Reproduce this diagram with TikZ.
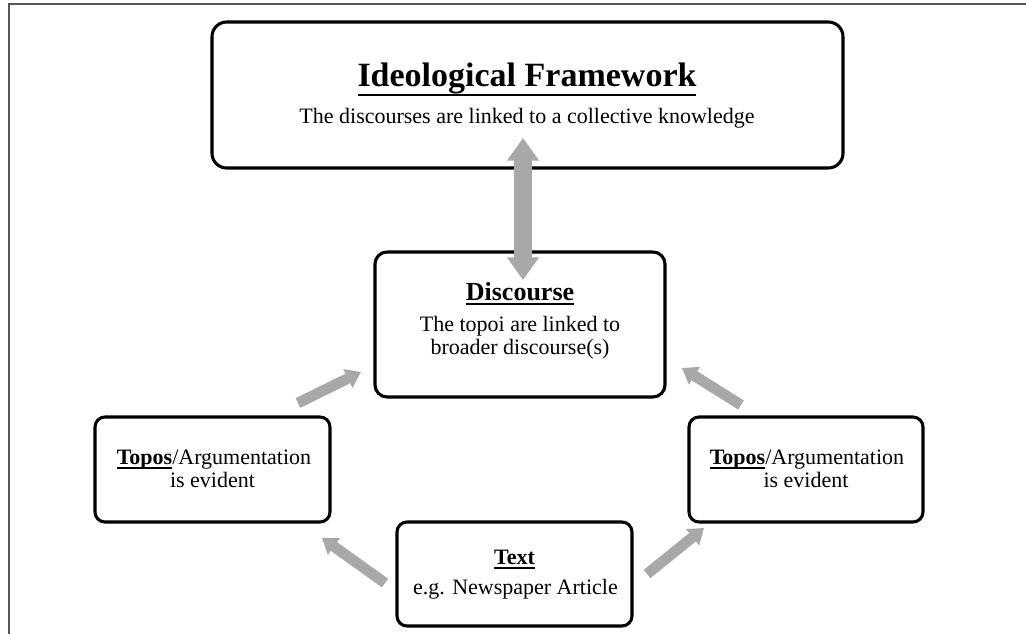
\documentclass[tikz,border=0pt]{standalone}
\usepackage{fontspec}
\setmainfont{Liberation Serif}
\usetikzlibrary{arrows.meta}
\newsavebox\ulbox
\newcommand{\ulfix}[3]{\sbox\ulbox{#3}\rlap{\rule[-#1]{\wd\ulbox}{#2}}\usebox\ulbox}
\definecolor{arrgray}{RGB}{168,168,168}
\definecolor{framegray}{RGB}{85,85,85}
\begin{document}
\begin{tikzpicture}[x=0.75pt,y=-0.75pt,
  boxstyle/.style={draw=black, fill=white, line width=2.3pt, inner sep=0pt, rectangle},
  lbl/.style={inner sep=0pt, anchor=base, font=\fontsize{16.5}{19}\selectfont},
  smallarr/.style={draw=arrgray, line width=8pt, -{Triangle[length=11pt,width=15pt]}},
  bigarr/.style={draw=arrgray, line width=13.5pt, {Triangle[length=17pt,width=23pt]}-{Triangle[length=17pt,width=23pt]}}
]
\useasboundingbox (0,0) rectangle (1026,634);
\draw[framegray, line width=1.1pt] (9,634) -- (9,4) -- (1026,4);

% boxes
\node[boxstyle, rounded corners=11pt, minimum width=473.25pt, minimum height=109.5pt] (ideo) at (527.5,95) {};
\node[boxstyle, rounded corners=9pt, minimum width=217.5pt, minimum height=108.75pt] (disc) at (520,324.5) {};
\node[boxstyle, rounded corners=7.5pt, minimum width=176.25pt, minimum height=78.75pt] (topL) at (212.5,469.5) {};
\node[boxstyle, rounded corners=7.5pt, minimum width=175.5pt, minimum height=78.75pt] (topR) at (806,469.5) {};
\node[boxstyle, rounded corners=7.5pt, minimum width=176.25pt, minimum height=78pt] (text) at (514.5,574) {};

% texts
\node[lbl, font=\fontsize{25.5}{30}\selectfont\bfseries] (ideoT) at (527,87) {\ulfix{7pt}{2pt}{Ideological Framework}};
\node[lbl] (ideoS) at (527,124) {The discourses are linked to a collective knowledge};

\node[lbl, font=\fontsize{19.5}{22}\selectfont\bfseries] (discT) at (520,301) {\ulfix{3pt}{1.5pt}{Discourse}};
\node[lbl] (discA) at (520,332) {The topoi are linked to};
\node[lbl] (discB) at (520,355) {broader discourse(s)};

\node[lbl] (topLA) at (214,465) {\textbf{\ulfix{2.8pt}{1.3pt}{Topos}}/Argumentation};
\node[lbl] (topLB) at (212.5,488) {is evident};
\node[lbl] (topRA) at (807,465) {\textbf{\ulfix{2.8pt}{1.3pt}{Topos}}/Argumentation};
\node[lbl] (topRB) at (806,488) {is evident};

\node[lbl, font=\fontsize{16.5}{19}\selectfont\bfseries] (textT) at (514.5,565) {\ulfix{2.8pt}{1.3pt}{Text}};
\node[lbl] (textS) at (515.5,595) {e.g. Newspaper Article};

% arrow end points
\coordinate (vA) at (523,138);
\coordinate (vB) at (523,280);
\coordinate (l1t) at (385,583);
\coordinate (l1h) at (322,538);
\coordinate (r1t) at (647,574);
\coordinate (r1h) at (704,528);
\coordinate (l2t) at (298,403);
\coordinate (l2h) at (361,372);
\coordinate (r2t) at (741,405);
\coordinate (r2h) at (682,368);

\draw[bigarr] (vA) -- (vB);
\draw[smallarr] (l1t) -- (l1h);
\draw[smallarr] (r1t) -- (r1h);
\draw[smallarr] (l2t) -- (l2h);
\draw[smallarr] (r2t) -- (r2h);
\end{tikzpicture}
\end{document}
